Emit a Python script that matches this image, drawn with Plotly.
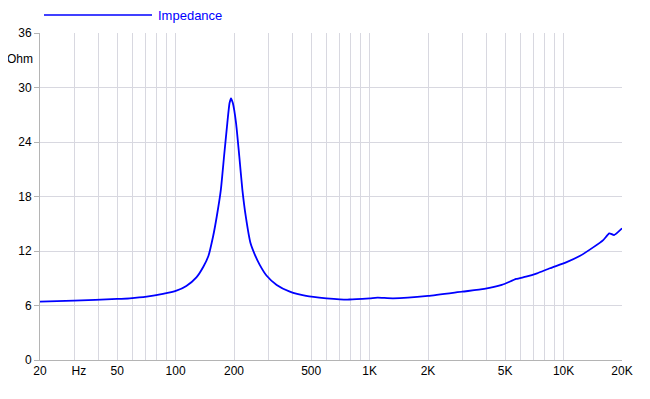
import plotly.graph_objects as go

freq_hz = [20, 30, 50, 58, 71, 86, 101, 113.6, 128, 139, 147.6, 156, 163, 171, 177.7, 184.7, 189.6, 193, 197.4,
           205, 213, 221, 230, 243, 256, 271, 294, 332, 388, 471, 599, 702, 786, 1002, 1100, 1320, 2000, 3000, 3900,
           4800, 5700, 6400, 7300, 8500, 10300, 12100, 14200, 16000, 17200, 18200, 20000]
impedance_ohm = [6.42, 6.53, 6.72, 6.79, 6.97, 7.27, 7.63, 8.15, 9.1, 10.27, 11.45, 13.6, 15.8, 18.7, 22.4, 26.06, 28.26, 28.8, 28.26,
                 26.06, 22.4, 18.7, 15.8, 12.9, 11.6, 10.5, 9.3, 8.26, 7.52, 7.05, 6.79, 6.68, 6.66, 6.79, 6.86, 6.79, 7.05, 7.52, 7.82,
                 8.26, 8.92, 9.17, 9.54, 10.1, 10.75, 11.45, 12.4, 13.2, 13.94, 13.76, 14.5]

x_tick_vals = [20, 31.7, 50, 100, 200, 500, 1000, 2000, 5000, 10000, 20000]
x_tick_text = ["20", "Hz", "50", "100", "200", "500", "1K", "2K", "5K", "10K", "20K"]
x_grid_vals = [m * d for d in (10, 100, 1000, 10000) for m in range(1, 10) if 20 <= m * d <= 20000] + [20000]
y_tick_vals = [0, 6, 12, 18, 24, 30, 36]
series_name = "Impedance"

FONT = "Liberation Sans, Arial, sans-serif"
BLUE = "#0000ff"
GRID = "#d8d8e0"
AXIS = "#b4b4b4"

# page body has an 8px margin; plot area should land at x 40..622, y 33..360 in the window
OFF = 8
W, H = 650 - OFF, 399 - OFF
L, R, T, B = 40 - OFF, 28, 33 - OFF, 39
PW, PH = W - L - R, H - T - B


def px_x(x):
    return (x - OFF - L) / PW


def px_y(y):
    return (H - B - (y - OFF)) / PH


fig = go.Figure()
fig.add_trace(go.Scatter(x=freq_hz, y=impedance_ohm, mode="lines", name=series_name,
                         line=dict(color=BLUE, width=1.8, shape="spline", smoothing=0.5),
                         showlegend=False))

fig.update_layout(
    width=W, height=H,
    margin=dict(l=L, r=R, t=T, b=B),
    paper_bgcolor="white", plot_bgcolor="white",
    font=dict(family=FONT, size=12, color="black"),
    xaxis=dict(type="log", range=[1.30103, 4.30103], automargin=False,
               tickmode="array", tickvals=x_tick_vals, ticktext=x_tick_text,
               showgrid=False, ticks="", showline=True, linecolor=AXIS, linewidth=1,
               zeroline=False, tickfont=dict(size=12),
               minor=dict(tickmode="array", tickvals=x_grid_vals, showgrid=True,
                          gridcolor=GRID, gridwidth=1, ticks="")),
    yaxis=dict(range=[0, 36], tickmode="array", tickvals=y_tick_vals, automargin=False,
               showgrid=True, gridcolor=GRID, gridwidth=1,
               ticks="outside", ticklen=5, tickcolor=AXIS,
               showline=True, linecolor=AXIS, linewidth=1, zeroline=False,
               tickfont=dict(size=12)),
    shapes=[dict(type="line", xref="paper", yref="paper", x0=px_x(44), x1=px_x(152),
                 y0=px_y(15), y1=px_y(15), line=dict(color=BLUE, width=1.5))],
    annotations=[
        dict(text=series_name, xref="paper", yref="paper", x=px_x(156), y=px_y(15),
             xanchor="left", yanchor="middle", showarrow=False, font=dict(color=BLUE, size=13)),
        dict(text="Ohm", xref="paper", yref="paper", x=px_x(35), y=px_y(59),
             xanchor="right", yanchor="middle", showarrow=False, font=dict(size=12)),
    ],
)

fig.write_html("out.html")
